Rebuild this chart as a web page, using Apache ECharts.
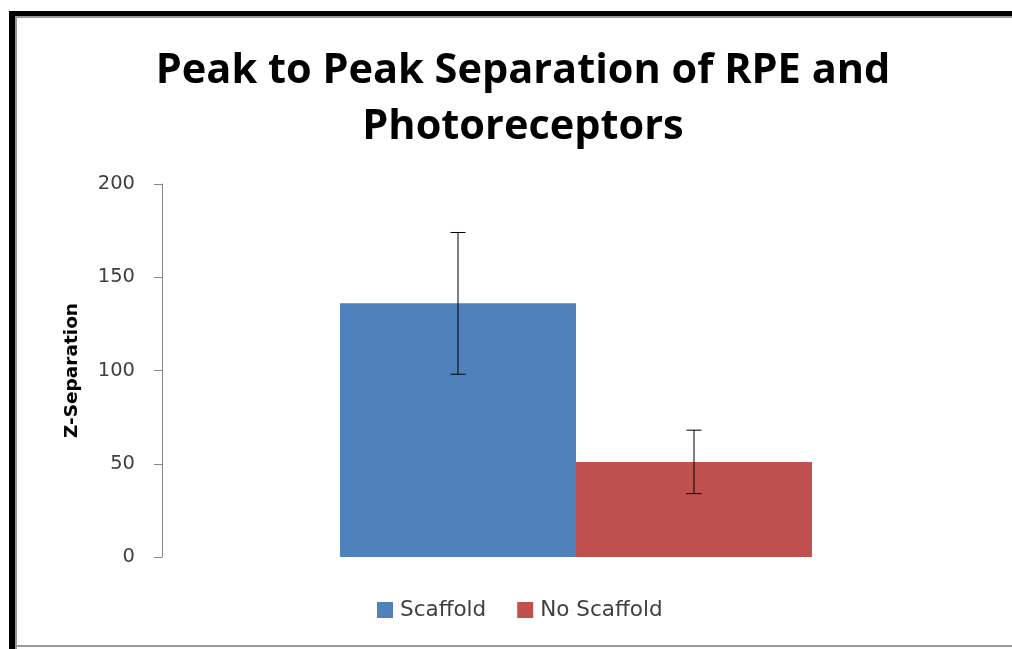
<!DOCTYPE html>
<html>
<head>
<meta charset="utf-8">
<script src="https://cdn.jsdelivr.net/npm/echarts@6/dist/echarts.min.js"></script>
<style>html,body{margin:0;padding:0;background:#fff}#c{width:1012px;height:649px}</style>
</head>
<body>
<div id="c"></div>
<script>
var categories = ['Peak to Peak Separation'];
var seriesNames = ['Scaffold', 'No Scaffold'];
var scaffoldValues = [136];
var noScaffoldValues = [51];
var scaffoldErrors = [38];
var noScaffoldErrors = [17];
var yTicks = [0, 50, 100, 150, 200];

var colors = ['#4F81BD', '#C0504D'];
var chart = echarts.init(document.getElementById('c'));

function errorSeries(values, errors, idx) {
  return {
    type: 'custom',
    name: seriesNames[idx] + ' error',
    data: values.map(function (v, i) { return [i, v - errors[i], v + errors[i]]; }),
    z: 10,
    silent: true,
    renderItem: function (params, api) {
      var cat = api.value(0);
      var lo = api.coord([cat, api.value(1)]);
      var hi = api.coord([cat, api.value(2)]);
      var band = api.size([1, 0])[0];
      var barW = band * (1 - 0.43) / 2;
      var cx = lo[0] + (idx === 0 ? -barW / 2 : barW / 2);
      var cap = 7.5;
      var st = { stroke: '#000', lineWidth: 1 };
      return {
        type: 'group',
        children: [
          { type: 'line', shape: { x1: cx, y1: hi[1], x2: cx, y2: lo[1] }, style: st },
          { type: 'line', shape: { x1: cx - cap, y1: hi[1], x2: cx + cap, y2: hi[1] }, style: st },
          { type: 'line', shape: { x1: cx - cap, y1: lo[1], x2: cx + cap, y2: lo[1] }, style: st }
        ]
      };
    }
  };
}

var titleFont = '"Open Sans", sans-serif';
var font = '"DejaVu Sans", sans-serif';
chart.setOption({
  animation: false,
  color: colors,
  title: {
    text: 'Peak to Peak Separation of RPE and\nPhotoreceptors',
    left: 518, top: 38, textAlign: 'center',
    textStyle: { fontFamily: titleFont, fontWeight: 'bold', fontSize: 41.5, color: '#000', lineHeight: 56 }
  },
  legend: {
    data: seriesNames,
    top: 594, left: 372,
    itemWidth: 16, itemHeight: 16, itemGap: 31,
    icon: 'rect',
    textStyle: { fontFamily: font, fontSize: 21.5, color: '#404040', padding: [0, 0, 0, 2] }
  },
  grid: { left: 162, right: 22, top: 184, bottom: 92, containLabel: false },
  xAxis: {
    type: 'category', data: categories,
    axisLine: { show: false }, axisTick: { show: false }, axisLabel: { show: false }
  },
  yAxis: {
    type: 'value', min: yTicks[0], max: yTicks[yTicks.length - 1], interval: 50,
    name: 'Z-Separation', nameLocation: 'middle', nameGap: 80, nameRotate: 90,
    nameTextStyle: { fontFamily: font, fontWeight: 'bold', fontSize: 18.5, color: '#000' },
    axisLine: { show: true, lineStyle: { color: '#868686', width: 1 } },
    axisTick: { show: true, length: 8, lineStyle: { color: '#868686' } },
    axisLabel: { margin: 27, fontFamily: font, fontSize: 19.5, color: '#404040' },
    splitLine: { show: false }
  },
  series: [
    { type: 'bar', name: seriesNames[0], data: scaffoldValues, barGap: '0%', barCategoryGap: '43%' },
    { type: 'bar', name: seriesNames[1], data: noScaffoldValues, barGap: '0%', barCategoryGap: '43%' },
    errorSeries(scaffoldValues, scaffoldErrors, 0),
    errorSeries(noScaffoldValues, noScaffoldErrors, 1)
  ],
  graphic: [
    { type: 'rect', shape: { x: 9, y: 11, width: 1010, height: 5 }, style: { fill: '#000' } },
    { type: 'rect', shape: { x: 9, y: 11, width: 6, height: 640 }, style: { fill: '#000' } },
    { type: 'rect', shape: { x: 15, y: 16, width: 1000, height: 2 }, style: { fill: '#9a9a9a' } },
    { type: 'rect', shape: { x: 15, y: 16, width: 2, height: 640 }, style: { fill: '#9a9a9a' } },
    { type: 'rect', shape: { x: 15, y: 645, width: 1000, height: 2 }, style: { fill: '#9a9a9a' } }
  ]
});
</script>
</body>
</html>
